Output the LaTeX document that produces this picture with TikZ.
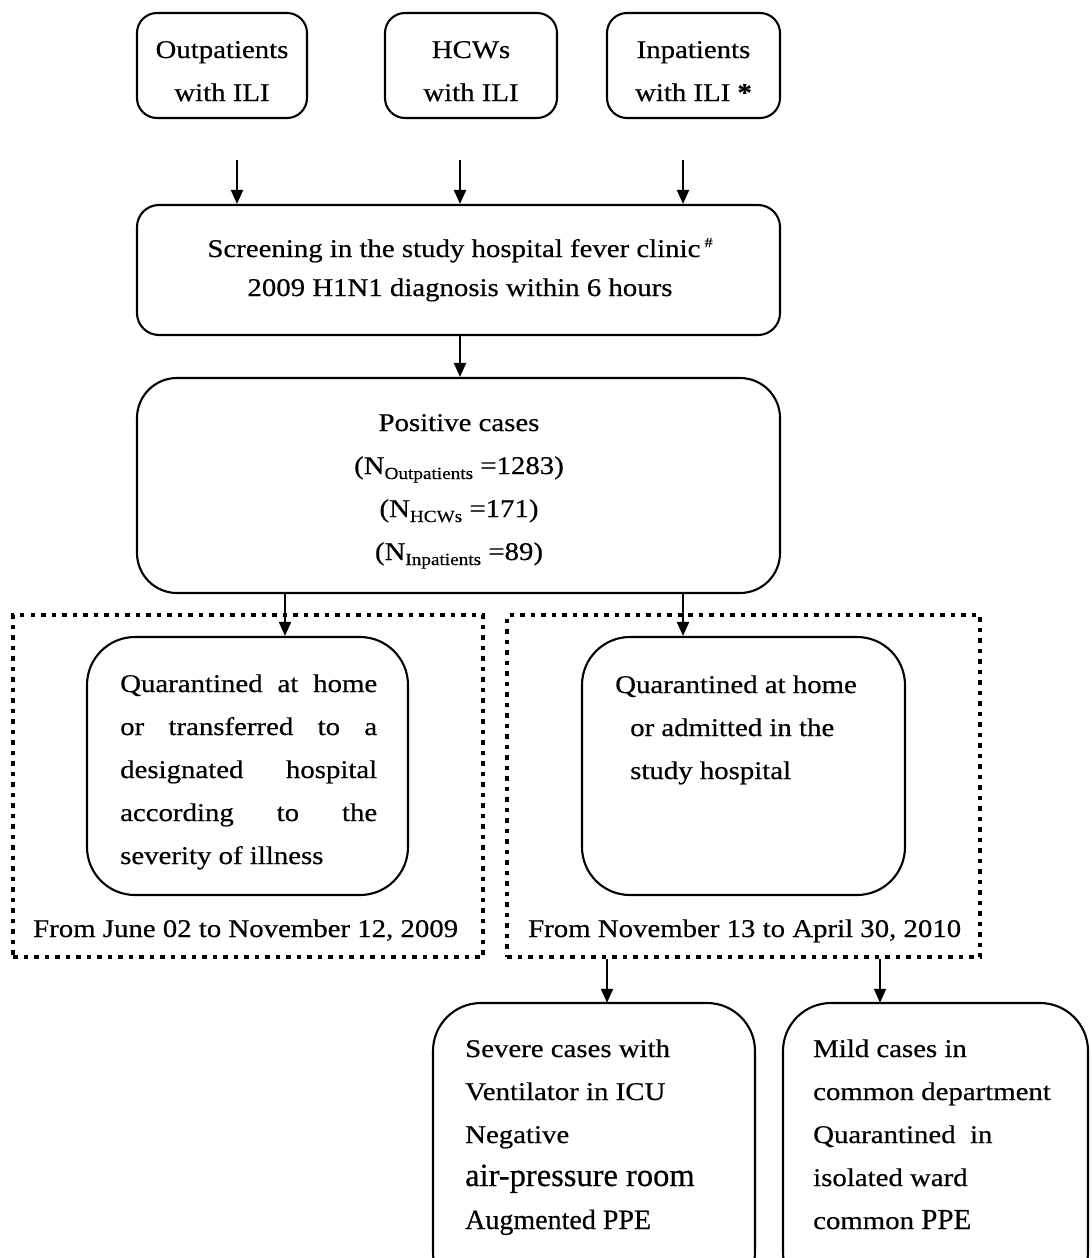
\documentclass[tikz,border=0pt]{standalone}
\usepackage{fontspec}
\setmainfont{Liberation Serif}[FakeStretch=1.13,FakeBold=0.5]
\newfontfamily\plainserif{Liberation Serif}[FakeBold=0.5]
\usetikzlibrary{arrows.meta}
\newcommand{\mylines}[2]{\begin{tabular}[t]{@{}#1@{}}#2\end{tabular}}
\newcommand{\jline}[1]{\makebox[257pt][s]{#1}}
\newcommand{\subtxt}[1]{\raisebox{-5pt}{\fontsize{17}{17}\selectfont #1}}
\begin{document}
\begin{tikzpicture}[x=1pt,y=-1pt,
  box/.style={draw,line width=2.1pt,rounded corners=#1},
  dotbox/.style={draw,line width=4.5pt,dash pattern=on 4.5pt off 6pt},
  arr/.style={line width=2pt,-{Triangle[length=14pt,width=12pt]}},
  txt/.style={inner sep=0pt,anchor=base,font=\fontsize{25.5}{43}\selectfont},
  txtl/.style={inner sep=0pt,anchor=base west,font=\fontsize{25.5}{43}\selectfont}]
\useasboundingbox (0,0) rectangle (1092,1258);

% top boxes
\draw[box=20pt] (137,13) rectangle (307,118);
\node[minimum width=170pt,minimum height=105pt] (out) at (222,65.5) {};
\draw[box=20pt] (385,13) rectangle (557,118);
\node[minimum width=172pt,minimum height=105pt] (hcw) at (471,65.5) {};
\draw[box=20pt] (607,13) rectangle (780,118);
\node[minimum width=173pt,minimum height=105pt] (inp) at (693.5,65.5) {};
\node[txt] (outt) at (222,58) {\mylines{c}{Outpatients\\with ILI}};
\node[txt] (hcwt) at (471,58) {\mylines{c}{HCWs\\with ILI}};
\node[txt] (inpt) at (693.5,58) {\mylines{c}{Inpatients\\with ILI \textbf{*}}};

% screening
\node[box=22pt,minimum width=643pt,minimum height=130pt,inner sep=0pt] (scr) at (458.5,270) {};
\node[txt,font=\fontsize{25.5}{39}\selectfont] (scrt) at (460,257)
  {\mylines{c}{Screening in the study hospital fever clinic\,\raisebox{10pt}{\fontsize{14}{14}\selectfont\#}\\2009 H1N1 diagnosis within 6 hours}};

% positive
\node[box=40pt,minimum width=643pt,minimum height=215pt,inner sep=0pt] (pos) at (458.5,485.5) {};
\node[txt] (post) at (459,431)
  {\mylines{c}{Positive cases\\(N\subtxt{Outpatients} =1283)\\(N\subtxt{HCWs} =171)\\(N\subtxt{Inpatients} =89)}};

% dotted period boxes
\node[dotbox,minimum width=470pt,minimum height=342pt,inner sep=0pt] (dl) at (248,786) {};
\node[dotbox,minimum width=473pt,minimum height=342pt,inner sep=0pt] (dr) at (743.5,786) {};
\node[txtl] (dlt) at (33,937) {From June 02 to November 12, 2009};
\node[txtl] (drt) at (528,937) {From November 13 to April 30, 2010};

% inner boxes
\node[box=48pt,minimum width=321pt,minimum height=258pt,inner sep=0pt] (il) at (247.5,766) {};
\node[box=48pt,minimum width=323pt,minimum height=258pt,inner sep=0pt] (ir) at (743.5,766) {};
\node[txtl] (ilt) at (120,692)
  {\mylines{l}{\jline{Quarantined at home}\\\jline{or transferred to a}\\\jline{designated hospital}\\\jline{according to the}\\severity of illness}};
\node[txtl] (irt) at (615,693)
  {\mylines{l}{Quarantined at home\\\hspace{15pt}or admitted in the\\\hspace{15pt}study hospital}};

% bottom boxes
\draw[box=48pt] (433,1003) rectangle (755,1300);
\node[minimum width=322pt,minimum height=297pt] (bl) at (594,1151.5) {};
\draw[box=48pt] (783,1003) rectangle (1088,1300);
\node[minimum width=305pt,minimum height=297pt] (br) at (935.5,1151.5) {};
\node[txtl] (blt) at (465,1057)
  {\mylines{l}{Severe cases with\\Ventilator in ICU\\Negative\\{\plainserif\fontsize{32.5}{43}\selectfont air-pressure room}\\{\plainserif\fontsize{28}{43}\selectfont Augmented PPE}}};
\node[txtl] (brt) at (813,1057)
  {\mylines{l}{Mild cases in\\common department\\Quarantined\ \ in\\isolated ward\\common {\plainserif\fontsize{29}{43}\selectfont PPE}}};

% connectors
\coordinate (a1) at (237,160);
\coordinate (a2) at (460,160);
\coordinate (a3) at (683,160);
\draw[arr] (a1) -- (scr.north -| a1);
\draw[arr] (a2) -- (scr.north -| a2);
\draw[arr] (a3) -- (scr.north -| a3);
\draw[arr] (scr.south -| a2) -- (pos.north -| a2);
\coordinate (xl) at (285,0);
\coordinate (xr) at (683,0);
\draw[arr] (pos.south -| xl) -- (il.north -| xl);
\draw[arr] (pos.south -| xr) -- (ir.north -| xr);
\coordinate (xb1) at (607,0);
\coordinate (xb2) at (880,0);
\draw[arr] (dr.south -| xb1) -- (bl.north -| xb1);
\draw[arr] (dr.south -| xb2) -- (br.north -| xb2);
\end{tikzpicture}
\end{document}
